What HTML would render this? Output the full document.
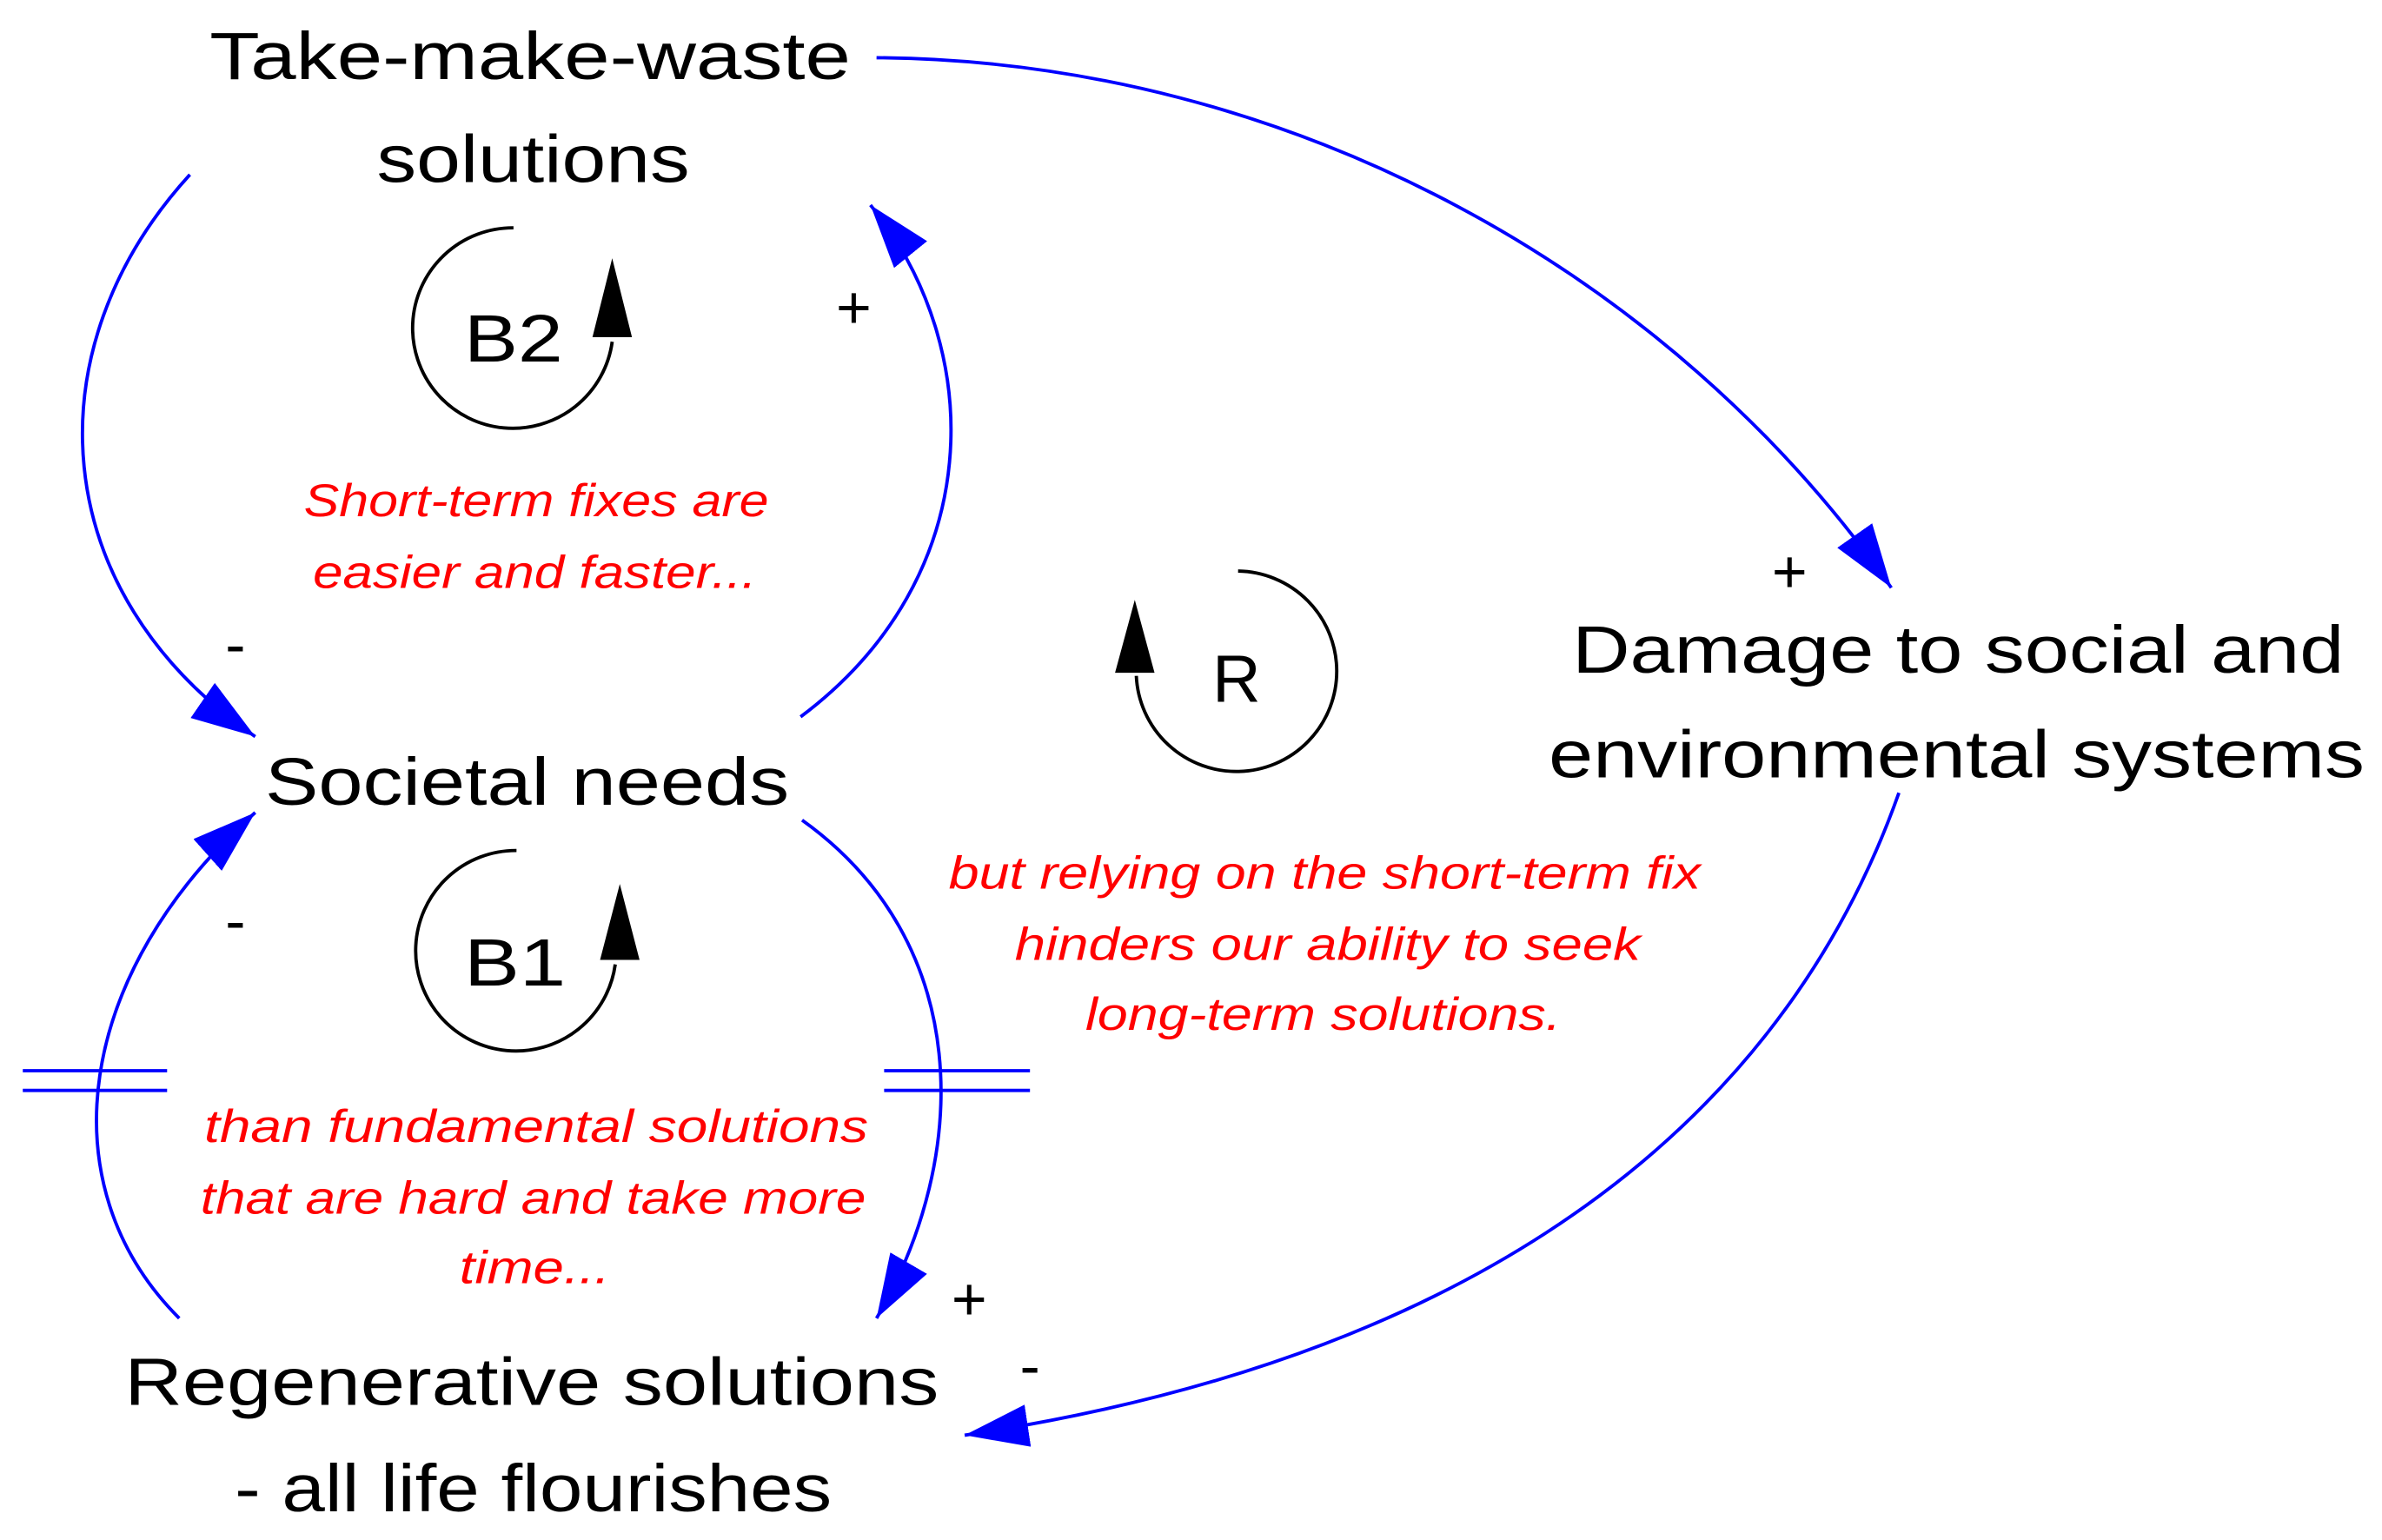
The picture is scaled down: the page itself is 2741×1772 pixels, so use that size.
<!DOCTYPE html>
<html><head><meta charset="utf-8"><style>
html,body{margin:0;padding:0;background:#fff;}
svg{display:block;}
.t{font-family:"Liberation Sans",Arial,sans-serif;font-size:44px;fill:#000;text-anchor:middle;}
.r{font-family:"Liberation Sans",Arial,sans-serif;font-size:30px;font-style:italic;fill:#f00;text-anchor:middle;}
.s{font-family:"Liberation Sans",Arial,sans-serif;font-size:40px;fill:#000;text-anchor:middle;}
</style></head><body>
<svg width="2741" height="1772" viewBox="0 0 1568 1014" preserveAspectRatio="none" xmlns="http://www.w3.org/2000/svg">
<defs>
<marker id="a" markerUnits="userSpaceOnUse" markerWidth="50" markerHeight="40" refX="42" refY="14" orient="auto">
<path d="M0,0 L42,14 L0,28 Z" fill="#00f"/>
</marker>
</defs>
<g fill="none" stroke="#00f" stroke-width="2.2">
<path d="M577,38 C850,40 1100,180 1245,387" marker-end="url(#a)"/>
<path d="M125,115 C20,230 30,390 168,485" marker-end="url(#a)"/>
<path d="M527,472 C650,380 650,230 573,135" marker-end="url(#a)"/>
<path d="M118,868 C30,780 50,640 168,535" marker-end="url(#a)"/>
<path d="M528,540 C640,620 640,760 577,868" marker-end="url(#a)"/>
<path d="M1250,522 C1180,720 1000,890 635,945" marker-end="url(#a)"/>
<path d="M15,705 H110 M15,718 H110 M582,705 H678 M582,718 H678"/>
</g>
<g fill="none" stroke="#000" stroke-width="2.2">
<path d="M338,150 A66,66 0 1 0 403,225"/>
<path d="M340,560 A66,66 0 1 0 405,635"/>
<path d="M815,376 A66,66 0 1 1 748,445"/>
</g>
<g fill="#000">
<path d="M403,170 L416,222 L390,222 Z"/>
<path d="M408,582 L421,632 L395,632 Z"/>
<path d="M747,395 L760,443 L734,443 Z"/>
</g>
<g lengthAdjust="spacingAndGlyphs">
<text class="t" x="349" y="52" textLength="422" lengthAdjust="spacingAndGlyphs">Take-make-waste</text>
<text class="t" x="351" y="120" textLength="206" lengthAdjust="spacingAndGlyphs">solutions</text>
<text class="t" x="347" y="530" textLength="345" lengthAdjust="spacingAndGlyphs">Societal needs</text>
<text class="t" x="350" y="925" textLength="536" lengthAdjust="spacingAndGlyphs">Regenerative solutions</text>
<text class="t" x="351" y="995" textLength="393" lengthAdjust="spacingAndGlyphs">- all life flourishes</text>
<text class="t" x="1289" y="443" textLength="508" lengthAdjust="spacingAndGlyphs">Damage to social and</text>
<text class="t" x="1288" y="512" textLength="537" lengthAdjust="spacingAndGlyphs">environmental systems</text>
<text class="t" x="338" y="238" textLength="65" lengthAdjust="spacingAndGlyphs">B2</text>
<text class="t" x="339" y="649" textLength="67" lengthAdjust="spacingAndGlyphs">B1</text>
<text class="t" x="814" y="462">R</text>
<text class="r" x="353" y="340" textLength="306" lengthAdjust="spacingAndGlyphs">Short-term fixes are</text>
<text class="r" x="352" y="387" textLength="292" lengthAdjust="spacingAndGlyphs">easier and faster...</text>
<text class="r" x="872" y="585" textLength="495" lengthAdjust="spacingAndGlyphs">but relying on the short-term fix</text>
<text class="r" x="874" y="632" textLength="412" lengthAdjust="spacingAndGlyphs">hinders our ability to seek</text>
<text class="r" x="871" y="678" textLength="313" lengthAdjust="spacingAndGlyphs">long-term solutions.</text>
<text class="r" x="353" y="752" textLength="437" lengthAdjust="spacingAndGlyphs">than fundamental solutions</text>
<text class="r" x="351" y="799" textLength="438" lengthAdjust="spacingAndGlyphs">that are hard and take more</text>
<text class="r" x="352" y="845" textLength="99" lengthAdjust="spacingAndGlyphs">time...</text>
</g>
<text class="s" x="562" y="216">+</text>
<text class="s" x="155" y="438">-</text>
<text class="s" x="155" y="620">-</text>
<text class="s" x="638" y="869">+</text>
<text class="s" x="678" y="913">-</text>
<text class="s" x="1178" y="390">+</text>
</svg>
</body></html>
